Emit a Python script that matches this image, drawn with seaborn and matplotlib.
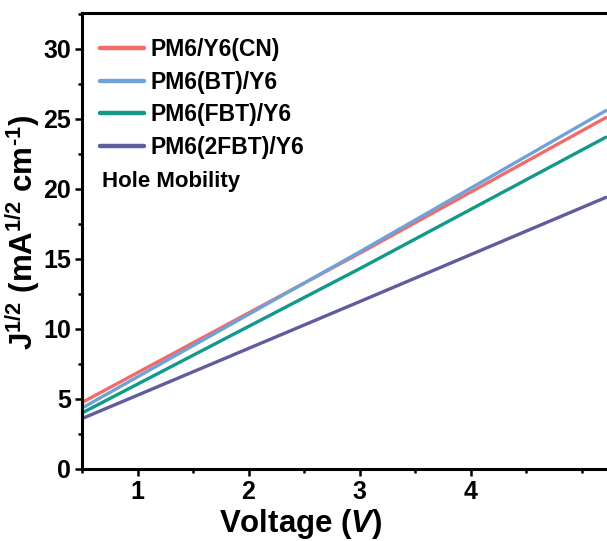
import numpy as np
import pandas as pd
import matplotlib
matplotlib.use("Agg")
import matplotlib.pyplot as plt
import seaborn as sns
from matplotlib.ticker import MultipleLocator

# ---- data ----
voltage = [0.5, 3.0, 5.22]
j_cn = [4.75, 15.4, 25.1]
j_bt = [4.35, 15.5, 25.6]
j_fbt = [4.0, 14.3, 23.7]
j_2fbt = [3.6, 11.95, 19.4]
series_names = ["PM6/Y6(CN)", "PM6(BT)/Y6", "PM6(FBT)/Y6", "PM6(2FBT)/Y6"]
colors = ["#f26b6b", "#6ea3d8", "#13998a", "#5f5d9e"]
x_ticks = [1, 2, 3, 4]
y_ticks = [0, 5, 10, 15, 20, 25, 30]

rows = []
for name, vals in zip(series_names, [j_cn, j_bt, j_fbt, j_2fbt]):
    for v, j in zip(voltage, vals):
        rows.append({"Voltage": v, "J": j, "Sample": name})
df = pd.DataFrame(rows)

sns.set_theme(style="ticks")
plt.rcParams["font.family"] = ["Liberation Sans", "DejaVu Sans"]
plt.rcParams["font.weight"] = "bold"
plt.rcParams["text.color"] = "black"
plt.rcParams["axes.labelcolor"] = "black"
plt.rcParams["xtick.color"] = "black"
plt.rcParams["ytick.color"] = "black"
plt.rcParams["mathtext.fontset"] = "custom"
plt.rcParams["mathtext.rm"] = "Liberation Sans:bold"
plt.rcParams["mathtext.bf"] = "Liberation Sans:bold"
plt.rcParams["mathtext.it"] = "Liberation Sans:italic:bold"
plt.rcParams["mathtext.default"] = "bf"

W, H = 607, 541
fig = plt.figure(figsize=(W / 100, H / 100), dpi=100)
ax_left, ax_bottom = 82 / W, (H - 469) / H
ax_w, ax_h = 555 / W, 456 / H
ax = fig.add_axes([ax_left, ax_bottom, ax_w, ax_h])

sns.lineplot(data=df, x="Voltage", y="J", hue="Sample", hue_order=series_names,
             palette=colors, linewidth=2.4, ax=ax, legend=True)

ax.set_xlim(0.5, 5.5)
ax.set_ylim(0, 32.57)
ax.set_xticks(x_ticks)
ax.set_yticks(y_ticks)
ax.xaxis.set_minor_locator(MultipleLocator(0.5))
ax.yaxis.set_minor_locator(MultipleLocator(2.5))
ax.tick_params(axis="both", which="major", direction="out", length=5, width=1.8,
               labelsize=18, colors="black", pad=3)
ax.tick_params(axis="both", which="minor", direction="out", length=3, width=1.8,
               colors="black")
for lab in ax.get_xticklabels() + ax.get_yticklabels():
    lab.set_fontweight("bold")
for s in ax.spines.values():
    s.set_linewidth(2.2)
    s.set_color("black")

ax.set_xlabel("Voltage ($\\mathit{V}$)", fontsize=22.5, fontweight="bold",
              color="black")
ax.xaxis.set_label_coords((301 - 82) / 555, -0.084)
ax.set_ylabel("J$^{1/2}$ (mA$^{1/2}$ cm$^{\\text{-1}}$)", fontsize=22.5,
              fontweight="bold", color="black")
ax.yaxis.set_label_coords(-0.072, 0.52)

leg = ax.legend(loc="upper left", bbox_to_anchor=(100 / W, 1 - 38 / H),
                bbox_transform=fig.transFigure, frameon=False,
                prop={"weight": "bold", "size": 16.5}, handlelength=1.9,
                handletextpad=0.3, labelspacing=0.42, borderaxespad=0,
                borderpad=0, labelcolor="black")
for line in leg.get_lines():
    line.set_linewidth(3.2)

fig.text(102 / W, 1 - 181 / H, "Hole Mobility", fontsize=16, fontweight="bold",
         va="center", ha="left", color="black")

fig.savefig("out.png", dpi=100)
